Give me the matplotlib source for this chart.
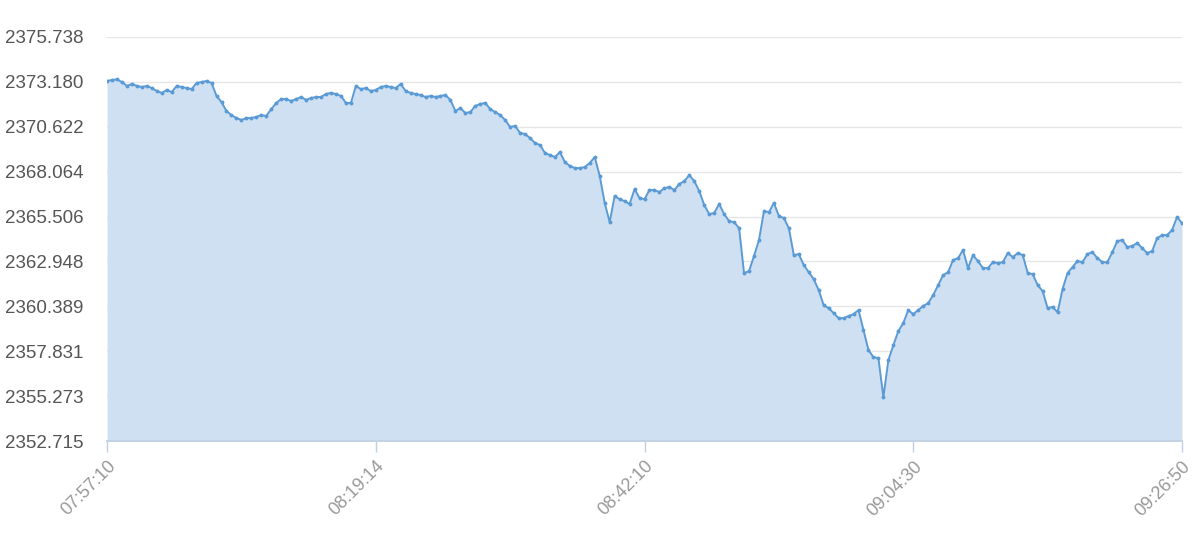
import numpy as np
import matplotlib
matplotlib.use("Agg")
import matplotlib.pyplot as plt

# price readings, evenly spaced along the category axis
prices = [
    2373.23, 2373.29, 2373.32, 2373.17, 2372.95, 2373.06, 2372.95, 2372.89, 2372.95, 2372.83,
    2372.66, 2372.55, 2372.72, 2372.60, 2372.95, 2372.89, 2372.83, 2372.77, 2373.12, 2373.17,
    2373.23, 2373.12, 2372.38, 2372.03, 2371.52, 2371.29, 2371.12, 2371.01, 2371.12, 2371.12,
    2371.18, 2371.29, 2371.24, 2371.63, 2371.98, 2372.20, 2372.20, 2372.09, 2372.20, 2372.32,
    2372.15, 2372.26, 2372.32, 2372.32, 2372.49, 2372.55, 2372.49, 2372.38, 2371.98, 2371.98,
    2372.95, 2372.77, 2372.83, 2372.66, 2372.72, 2372.89, 2372.95, 2372.89, 2372.83, 2373.06,
    2372.66, 2372.55, 2372.49, 2372.43, 2372.32, 2372.38, 2372.32, 2372.38, 2372.43, 2372.15,
    2371.52, 2371.69, 2371.41, 2371.46, 2371.81, 2371.92, 2371.98, 2371.63, 2371.46, 2371.29,
    2371.01, 2370.61, 2370.67, 2370.27, 2370.21, 2369.98, 2369.70, 2369.58, 2369.13, 2369.01,
    2368.90, 2369.18, 2368.61, 2368.39, 2368.27, 2368.27, 2368.33, 2368.56, 2368.90, 2367.82,
    2366.28, 2365.19, 2366.68, 2366.50, 2366.39, 2366.22, 2367.07, 2366.56, 2366.50, 2367.02,
    2367.02, 2366.90, 2367.13, 2367.19, 2367.02, 2367.36, 2367.53, 2367.87, 2367.53, 2366.96,
    2366.16, 2365.65, 2365.71, 2366.22, 2365.65, 2365.25, 2365.19, 2364.85, 2362.29, 2362.40,
    2363.26, 2364.17, 2365.82, 2365.76, 2366.28, 2365.54, 2365.42, 2364.85, 2363.31, 2363.37,
    2362.74, 2362.34, 2361.94, 2361.32, 2360.46, 2360.29, 2360.01, 2359.72, 2359.72, 2359.84,
    2359.95, 2360.18, 2359.04, 2357.90, 2357.50, 2357.44, 2355.22, 2357.33, 2358.18, 2358.98,
    2359.44, 2360.18, 2359.95, 2360.18, 2360.41, 2360.58, 2361.03, 2361.60, 2362.17, 2362.34,
    2363.03, 2363.14, 2363.60, 2362.57, 2363.31, 2362.97, 2362.57, 2362.57, 2362.91, 2362.86,
    2362.91, 2363.43, 2363.20, 2363.43, 2363.31, 2362.29, 2362.23, 2361.60, 2361.26, 2360.29,
    2360.35, 2360.06, 2361.37, 2362.29, 2362.63, 2362.97, 2362.91, 2363.37, 2363.48, 2363.14,
    2362.91, 2362.91, 2363.48, 2364.11, 2364.17, 2363.77, 2363.83, 2364.00, 2363.71, 2363.43,
    2363.54, 2364.28, 2364.45, 2364.45, 2364.74, 2365.48, 2365.14,
]

time_labels = ["07:57:10", "08:19:14", "08:42:10", "09:04:30", "09:26:50"]
y_ticks = [2352.715, 2355.273, 2357.831, 2360.389, 2362.948,
           2365.506, 2368.064, 2370.622, 2373.180, 2375.738]


def main():
    plt.rcParams['font.family'] = ['Liberation Sans', 'DejaVu Sans']

    x = np.arange(len(prices))
    n = len(prices) - 1
    tick_pos = [n * k / (len(time_labels) - 1) for k in range(len(time_labels))]

    fig = plt.figure(figsize=(12, 5.36), dpi=100)
    ax = fig.add_axes([0.0892, 0.177, 0.8958, 0.754])

    ymin, ymax = y_ticks[0], y_ticks[-1]
    ax.fill_between(x, prices, ymin, color="#cfe0f2", linewidth=0, zorder=2)
    ax.plot(x, prices, color="#5b9bd5", linewidth=1.4, marker="o",
            markersize=1.8, zorder=3)

    ax.set_xlim(0, n)
    ax.set_ylim(ymin, ymax)

    # horizontal grid only
    ax.set_yticks(y_ticks)
    ax.set_yticklabels(["%.3f" % v for v in y_ticks])
    ax.yaxis.grid(True, color="#e6e6e6", linewidth=1, zorder=1)
    ax.set_axisbelow(True)
    ax.tick_params(axis='y', length=0, pad=17, labelsize=13.5, labelcolor="#555555")

    ax.set_xticks(tick_pos)
    ax.set_xticklabels(time_labels, rotation=45, ha='right', rotation_mode='anchor')
    ax.tick_params(axis='x', length=8, width=1, color="#c0d0e0", pad=4,
                   labelsize=13, labelcolor="#999999")

    for side in ["top", "right", "left"]:
        ax.spines[side].set_visible(False)
    ax.spines["bottom"].set_color("#c0d0e0")
    ax.spines["bottom"].set_linewidth(1.2)

    fig.savefig("out.png", dpi=100)


if __name__ == '__main__':
    main()
